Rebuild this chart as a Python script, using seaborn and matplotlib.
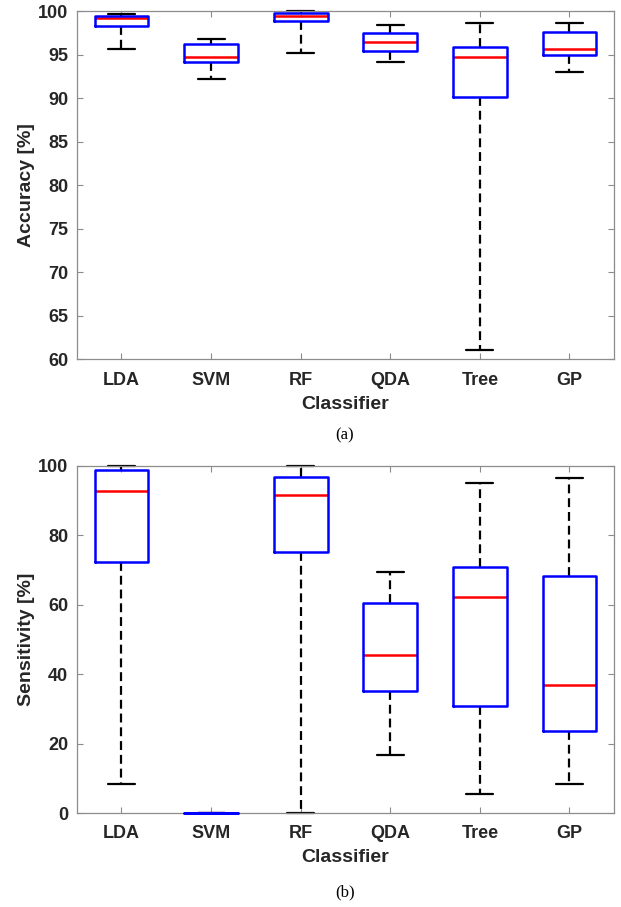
import pandas as pd
import matplotlib
matplotlib.use("Agg")
import matplotlib.pyplot as plt
import seaborn as sns

# Five-number summaries per classifier: [min, q1, median, q3, max]
classifiers = ['LDA', 'SVM', 'RF', 'QDA', 'Tree', 'GP']
accuracy = {
    'LDA': [95.6, 98.3, 99.15, 99.4, 99.7],
    'SVM': [92.2, 94.1, 94.7, 96.2, 96.8],
    'RF': [95.2, 98.9, 99.4, 99.75, 100.0],
    'QDA': [94.15, 95.45, 96.4, 97.45, 98.35],
    'Tree': [61.1, 90.15, 94.7, 95.85, 98.6],
    'GP': [93.05, 94.95, 95.6, 97.6, 98.65],
}
sensitivity = {
    'LDA': [8.3, 72.4, 92.7, 98.8, 100.0],
    'SVM': [0.0, 0.0, 0.0, 0.0, 0.0],
    'RF': [0.0, 75.2, 91.6, 96.7, 100.0],
    'QDA': [16.6, 35.1, 45.6, 60.5, 69.4],
    'Tree': [5.5, 30.8, 62.3, 70.9, 95.1],
    'GP': [8.3, 23.7, 36.9, 68.3, 96.6],
}
acc_ticks = [60, 65, 70, 75, 80, 85, 90, 95, 100]
sens_ticks = [0, 20, 40, 60, 80, 100]


def to_long(summary):
    rows = [(c, v) for c in classifiers for v in summary[c]]
    return pd.DataFrame(rows, columns=['Classifier', 'value'])


sns.set_style("white")
plt.rcParams['font.family'] = ['Liberation Sans', 'DejaVu Sans']

fig = plt.figure(figsize=(6.21, 9.07), dpi=100)
W, H = 621, 907
ax1 = fig.add_axes([76.7 / W, 1 - 359.3 / H, (614.3 - 76.7) / W, (359.3 - 11) / H])
ax2 = fig.add_axes([76.7 / W, 1 - 813 / H, (614.3 - 76.7) / W, (813 - 466) / H])

spine_col = '#8c8c8c'
text_col = '#262626'


def draw(ax, summary, ylabel, yticks, ylim):
    sns.boxplot(data=to_long(summary), x='Classifier', y='value', order=classifiers,
                ax=ax, fill=False, width=0.6, whis=(0, 100), linewidth=1.6,
                boxprops=dict(color='blue', linewidth=1.8, zorder=4),
                medianprops=dict(color='red', linewidth=1.8, zorder=3),
                whiskerprops=dict(color='black', linestyle=(0, (4, 2.2)), linewidth=1.6),
                capprops=dict(color='black', linewidth=1.6),
                showfliers=False)
    for ln in ax.lines:
        ln.set_clip_on(False)
    ax.set_xlim(-0.5, 5.5)
    ax.set_ylim(*ylim)
    ax.set_yticks(yticks)
    ax.set_yticklabels([str(t) for t in yticks])
    for s in ax.spines.values():
        s.set_visible(True)
        s.set_color(spine_col)
        s.set_linewidth(0.9)
    ax.tick_params(direction='in', length=4, width=0.8, color=spine_col,
                   top=True, right=True, bottom=True, left=True,
                   labelsize=13, labelcolor=text_col)
    ax.tick_params(axis='x', pad=9)
    ax.tick_params(axis='y', pad=6)
    for lbl in ax.get_xticklabels() + ax.get_yticklabels():
        lbl.set_fontweight('bold')
    ax.set_xlabel('Classifier', fontsize=14, fontweight='bold', color=text_col, labelpad=5)
    ax.set_ylabel(ylabel, fontsize=14, fontweight='bold', color=text_col, labelpad=2)
    ax.grid(False)


draw(ax1, accuracy, 'Accuracy [%]', acc_ticks, (60, 100))
draw(ax2, sensitivity, 'Sensitivity [%]', sens_ticks, (0, 100))

fig.text(345 / W, 1 - 435 / H, '(a)', ha='center', va='center', fontsize=12,
         family=['Liberation Serif', 'DejaVu Serif'], color='black')
fig.text(345 / W, 1 - 892 / H, '(b)', ha='center', va='center', fontsize=12,
         family=['Liberation Serif', 'DejaVu Serif'], color='black')

fig.savefig('out.png', dpi=100)
